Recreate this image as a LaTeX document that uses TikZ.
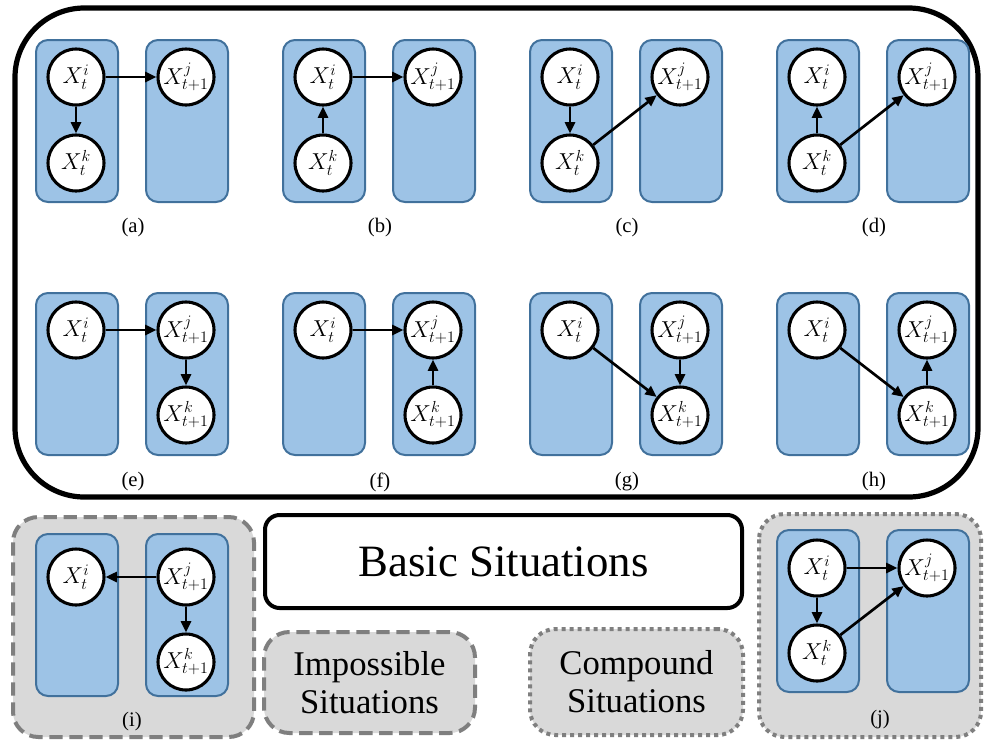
\documentclass[tikz,border=0pt]{standalone}
\usepackage{fontspec}
\setmainfont{Liberation Serif}
\usetikzlibrary{arrows.meta}
\definecolor{colfill}{HTML}{9DC3E6}
\definecolor{coldraw}{HTML}{41719C}
\definecolor{grayfill}{HTML}{D9D9D9}
\definecolor{graydraw}{HTML}{7F7F7F}
\newcommand\pa[3]{%
  \node[col] (#1L) at (#2+77,#3) {};
  \node[col] (#1R) at (#2+187,#3) {};}
\begin{document}
\begin{tikzpicture}[x=0.75pt,y=-0.75pt,
  col/.style={draw=coldraw, fill=colfill, line width=1.5pt, rounded corners=9pt,
    minimum width=61.5pt, minimum height=121.5pt, inner sep=0pt},
  var/.style={circle, draw=black, fill=white, line width=2.3pt, minimum size=42pt,
    inner sep=0pt, font=\fontsize{18.5}{18.5}\selectfont},
  arr/.style={-{Triangle[length=8.5pt,width=7.5pt]}, line width=2pt},
  lab/.style={font=\fontsize{15.5}{16}\selectfont},
  impbox/.style={draw=graydraw, fill=grayfill, line width=3pt, rounded corners=19pt,
    dash pattern=on 10pt off 5pt},
  cmpbox/.style={draw=graydraw, fill=grayfill, line width=3pt, rounded corners=19pt,
    dash pattern=on 3pt off 3pt},
  keytext/.style={align=center, font=\fontsize{26}{28.5}\selectfont, inner sep=0pt}]
\useasboundingbox (0,0) rectangle (984,740);
% outer frame
\draw[line width=3.9pt, rounded corners=52pt] (15,8) rectangle (978,497);
% gray boxes
\draw[impbox] (13,517) rectangle (254,737);
\draw[cmpbox] (759,514) rectangle (981,737);
% legend boxes
\node[draw=black, fill=white, line width=3pt, rounded corners=11pt,
  minimum width=357.75pt, minimum height=69.75pt,
  font=\fontsize{33.6}{36}\selectfont] (basic) at (503.5,561.5) {Basic Situations};
\node[impbox, minimum width=158.25pt, minimum height=75.75pt] (imp) at (369.5,682.5) {};
\node[keytext] (impt) at (imp.center) {Impossible\\Situations};
\node[cmpbox, minimum width=159.75pt, minimum height=79.5pt] (cmp) at (636.5,682) {};
\node[keytext] (cmpt) at (cmp.center) {Compound\\Situations};
% (a)
\pa{a}{0}{121}
\node[var] (ai) at (76,77) {$X_t^i$};
\node[var] (ak) at (76,163) {$X_t^k$};
\node[var] (aj) at (186,77) {$X_{t+1}^j$};
\draw[arr] (ai) -- (aj); \draw[arr] (ai) -- (ak);
\node[lab] (al) at (133,228) {(a)};
% (b)
\pa{b}{247}{121}
\node[var] (bi) at (323,77) {$X_t^i$};
\node[var] (bk) at (323,163) {$X_t^k$};
\node[var] (bj) at (433,77) {$X_{t+1}^j$};
\draw[arr] (bi) -- (bj); \draw[arr] (bk) -- (bi);
\node[lab] (bl) at (380,228) {(b)};
% (c)
\pa{c}{494}{121}
\node[var] (ci) at (570,77) {$X_t^i$};
\node[var] (ck) at (570,163) {$X_t^k$};
\node[var] (cj) at (680,77) {$X_{t+1}^j$};
\draw[arr] (ci) -- (ck); \draw[arr] (ck) -- (cj);
\node[lab] (cl) at (627,228) {(c)};
% (d)
\pa{d}{741}{121}
\node[var] (di) at (817,77) {$X_t^i$};
\node[var] (dk) at (817,163) {$X_t^k$};
\node[var] (dj) at (927,77) {$X_{t+1}^j$};
\draw[arr] (dk) -- (di); \draw[arr] (dk) -- (dj);
\node[lab] (dl) at (874,228) {(d)};
% (e)
\pa{e}{0}{374}
\node[var] (ei) at (76,330) {$X_t^i$};
\node[var] (ej) at (186,330) {$X_{t+1}^j$};
\node[var] (ek) at (186,415) {$X_{t+1}^k$};
\draw[arr] (ei) -- (ej); \draw[arr] (ej) -- (ek);
\node[lab] (el) at (133,482) {(e)};
% (f)
\pa{f}{247}{374}
\node[var] (fi) at (323,330) {$X_t^i$};
\node[var] (fj) at (433,330) {$X_{t+1}^j$};
\node[var] (fk) at (433,415) {$X_{t+1}^k$};
\draw[arr] (fi) -- (fj); \draw[arr] (fk) -- (fj);
\node[lab] (fl) at (380,482) {(f)};
% (g)
\pa{g}{494}{374}
\node[var] (gi) at (570,330) {$X_t^i$};
\node[var] (gj) at (680,330) {$X_{t+1}^j$};
\node[var] (gk) at (680,415) {$X_{t+1}^k$};
\draw[arr] (gi) -- (gk); \draw[arr] (gj) -- (gk);
\node[lab] (gl) at (627,482) {(g)};
% (h)
\pa{h}{741}{374}
\node[var] (hi) at (817,330) {$X_t^i$};
\node[var] (hj) at (927,330) {$X_{t+1}^j$};
\node[var] (hk) at (927,415) {$X_{t+1}^k$};
\draw[arr] (hi) -- (hk); \draw[arr] (hk) -- (hj);
\node[lab] (hl) at (874,482) {(h)};
% (i)
\pa{i}{0}{615}
\node[var] (ii) at (76,577) {$X_t^i$};
\node[var] (ij) at (186,577) {$X_{t+1}^j$};
\node[var] (ik) at (186,662) {$X_{t+1}^k$};
\draw[arr] (ij) -- (ii); \draw[arr] (ij) -- (ik);
\node[lab] (il) at (132,722) {(i)};
% (j)
\pa{j}{741}{611}
\node[var] (ji) at (817,568) {$X_t^i$};
\node[var] (jk) at (817,653) {$X_t^k$};
\node[var] (jj) at (927,568) {$X_{t+1}^j$};
\draw[arr] (ji) -- (jj); \draw[arr] (ji) -- (jk); \draw[arr] (jk) -- (jj);
\node[lab] (jl) at (880,720) {(j)};
\end{tikzpicture}
\end{document}
